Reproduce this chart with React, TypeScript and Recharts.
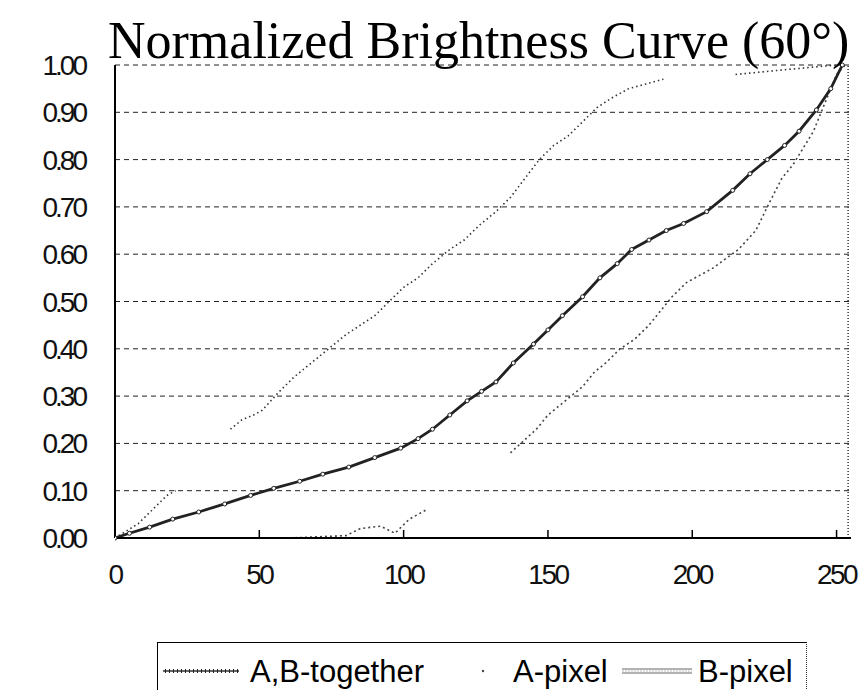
import React from "react";
import { LineChart, Line, XAxis, YAxis, CartesianGrid, ReferenceLine } from "recharts";

const TITLE = "Normalized Brightness Curve (60°)";
const X_TICKS = [0, 50, 100, 150, 200, 250];
const Y_TICKS = [0, 0.1, 0.2, 0.3, 0.4, 0.5, 0.6, 0.7, 0.8, 0.9, 1.0];
const SERIES_NAMES = ["A,B-together", "A-pixel", "B-pixel"];

const abX = [0, 5, 12, 20, 29, 38, 47, 55, 64, 72, 81, 90, 99, 105, 110, 116, 122, 127, 132, 138, 145, 150, 155, 162, 168, 174, 179, 185, 191, 197, 205, 214, 220, 226, 232, 237, 243, 248, 252];
const abY = [0, 0.01, 0.023, 0.04, 0.055, 0.072, 0.09, 0.105, 0.12, 0.135, 0.15, 0.17, 0.19, 0.21, 0.23, 0.26, 0.29, 0.31, 0.33, 0.37, 0.41, 0.44, 0.47, 0.51, 0.55, 0.58, 0.61, 0.63, 0.65, 0.665, 0.69, 0.735, 0.77, 0.8, 0.83, 0.86, 0.905, 0.95, 1.0];

// null = no visible pixels in the reference (gap in the trace)
const aX = [0, 8, 13, 18, 21, 30, 40, 44, 48, 51, 54, 57, 62, 66, 70, 74, 80, 85, 90, 95, 100, 105, 110, 116, 121, 126, 132, 137, 142, 147, 152, 157, 162, 167, 172, 178, 184, 190, 200, 215, 232, 250];
const aY = [0, 0.03, 0.06, 0.09, 0.1, null, 0.23, 0.25, 0.26, 0.27, 0.29, 0.31, 0.34, 0.36, 0.38, 0.4, 0.43, 0.45, 0.47, 0.5, 0.53, 0.55, 0.58, 0.61, 0.63, 0.66, 0.69, 0.72, 0.76, 0.8, 0.83, 0.85, 0.88, 0.91, 0.93, 0.95, 0.96, 0.97, null, 0.98, 0.99, 1.0];

const bX = [0, 20, 40, 60, 80, 85, 92, 97, 102, 108, 122, 137, 146, 150, 154, 158, 162, 166, 170, 175, 180, 185, 189, 193, 198, 207, 216, 222, 226, 231, 235, 239, 242, 246, 250, 253];
const bY = [0, 0, 0, 0, 0.005, 0.02, 0.025, 0.01, 0.04, 0.06, null, 0.18, 0.23, 0.26, 0.28, 0.3, 0.32, 0.35, 0.37, 0.4, 0.42, 0.45, 0.48, 0.51, 0.54, 0.57, 0.61, 0.65, 0.7, 0.76, 0.79, 0.83, 0.86, 0.92, 0.98, 1.0];

const toData = (xs: number[], ys: (number | null)[]) => xs.map((x, i) => ({ x, y: ys[i] }));
const abData = toData(abX, abY);
const aData = toData(aX, aY);
const bData = toData(bX, bY);

const TICK_FONT = "'Liberation Sans', Arial, sans-serif";

const XTick = (props: any) => {
  const { x, y, payload } = props;
  return (
    <g>
      {payload.value !== 0 && <line x1={x} y1={y} x2={x} y2={y - 8} stroke="#000" strokeWidth={1.5} />}
      <text x={x} y={y + 46} textAnchor="middle" fontFamily={TICK_FONT} fontSize={28} letterSpacing={-2.5} fill="#111">
        {payload.value}
      </text>
    </g>
  );
};

const YTick = (props: any) => {
  const { x, y, payload } = props;
  return (
    <text x={x - 30} y={y + 10} textAnchor="end" fontFamily={TICK_FONT} fontSize={28} letterSpacing={-3} fill="#111">
      {Number(payload.value).toFixed(2)}
    </text>
  );
};

export default function App() {
  return (
    <div style={{ position: "absolute", left: 0, top: 0, width: 861, height: 690, background: "#fff", overflow: "hidden" }}>
      <LineChart width={861} height={690} data={abData} margin={{ top: 65, right: 10, left: 0, bottom: 92 }}>
        <CartesianGrid horizontal vertical={false} stroke="#222" strokeDasharray="5 4" strokeWidth={1} />
        <XAxis
          dataKey="x"
          type="number"
          domain={[0, 255]}
          ticks={X_TICKS}
          interval={0}
          allowDataOverflow
          height={60}
          tickSize={0}
          tickMargin={0}
          tickLine={false}
          axisLine={{ stroke: "#000", strokeWidth: 2 }}
          tick={<XTick />}
        />
        <YAxis
          type="number"
          domain={[0, 1]}
          ticks={Y_TICKS}
          interval={0}
          width={115}
          tickSize={0}
          tickMargin={0}
          tickLine={false}
          axisLine={{ stroke: "#000", strokeWidth: 2 }}
          tick={<YTick />}
        />
        <ReferenceLine x={254} stroke="#333" strokeDasharray="1 2" strokeWidth={1.5} />
        <Line
          data={aData}
          dataKey="y"
          name={SERIES_NAMES[1]}
          stroke="#333"
          strokeWidth={1.6}
          strokeDasharray="1.5 3"
          dot={false}
          connectNulls={false}
          isAnimationActive={false}
        />
        <Line
          data={bData}
          dataKey="y"
          name={SERIES_NAMES[2]}
          stroke="#444"
          strokeWidth={1.6}
          strokeDasharray="2 3"
          dot={false}
          connectNulls={false}
          isAnimationActive={false}
        />
        <Line
          data={abData}
          dataKey="y"
          name={SERIES_NAMES[0]}
          stroke="#222"
          strokeWidth={2.8}
          dot={{ r: 2, stroke: "#222", strokeWidth: 1, fill: "#fff" }}
          isAnimationActive={false}
        />
      </LineChart>
      <div
        style={{
          position: "absolute",
          left: 108,
          top: 15,
          fontFamily: "'Liberation Serif', 'Times New Roman', serif",
          fontSize: 52,
          lineHeight: "52px",
          color: "#000",
          whiteSpace: "nowrap",
        }}
      >
        {TITLE}
      </div>
      <div
        style={{
          position: "absolute",
          left: 157,
          top: 642,
          width: 648,
          height: 60,
          borderLeft: "1.5px solid #000",
          borderTop: "1.5px solid #000",
          borderRight: "1.5px dotted #333",
          fontFamily: "'Liberation Sans', Arial, sans-serif",
          fontSize: 31,
          color: "#000",
        }}
      >
        <svg style={{ position: "absolute", left: 5, top: 22 }} width={76} height={12}>
          <line x1={0} y1={6} x2={76} y2={6} stroke="#333" strokeWidth={1.5} />
          <line x1={2} y1={6} x2={76} y2={6} stroke="#222" strokeWidth={4} strokeDasharray="1 3" />
        </svg>
        <span style={{ position: "absolute", left: 92, top: 11, lineHeight: "36px", whiteSpace: "nowrap" }}>{SERIES_NAMES[0]}</span>
        <svg style={{ position: "absolute", left: 323, top: 26 }} width={4} height={4}>
          <circle cx={2} cy={2} r={1.2} fill="#444" />
        </svg>
        <span style={{ position: "absolute", left: 355, top: 11, lineHeight: "36px", whiteSpace: "nowrap" }}>{SERIES_NAMES[1]}</span>
        <svg style={{ position: "absolute", left: 464, top: 23 }} width={70} height={10}>
          <line x1={0} y1={3} x2={70} y2={3} stroke="#666" strokeWidth={1} />
          <line x1={0} y1={7} x2={70} y2={7} stroke="#666" strokeWidth={1} />
          <line x1={0} y1={5} x2={70} y2={5} stroke="#bbb" strokeWidth={1} strokeDasharray="2 1" />
        </svg>
        <span style={{ position: "absolute", left: 540, top: 11, lineHeight: "36px", whiteSpace: "nowrap" }}>{SERIES_NAMES[2]}</span>
      </div>
    </div>
  );
}
